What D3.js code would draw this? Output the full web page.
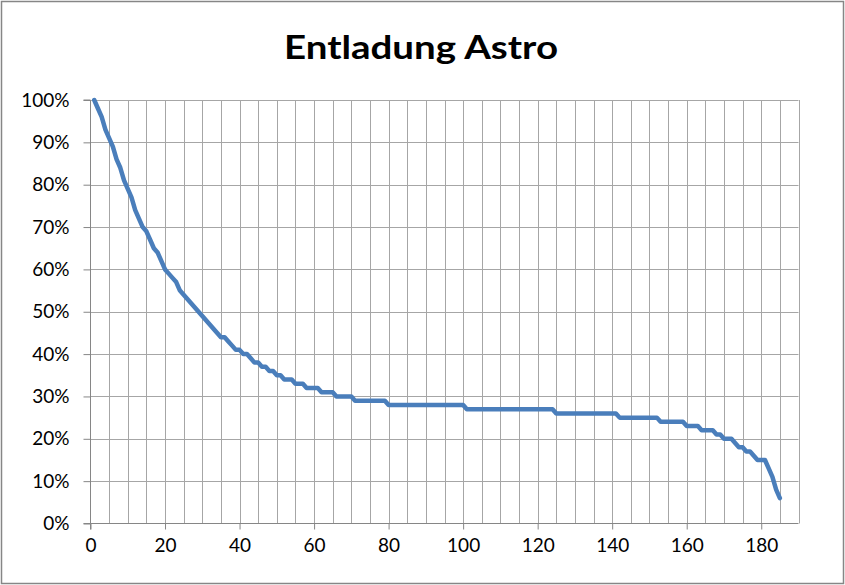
<!DOCTYPE html>
<html>
<head>
<meta charset="utf-8">
<script src="https://cdn.jsdelivr.net/npm/d3@7/dist/d3.min.js"></script>
<style>
  html, body { margin: 0; padding: 0; background: #ffffff; }
  svg { display: block; }
</style>
</head>
<body>
<svg id="chart" width="845" height="585"></svg>
<script>
// ---- data ----
const title = "Entladung Astro";
// charge level (%) for each step 1..185
const charge = [
  100, 98, 96, 93, 91, 89, 86, 84, 81, 79,
  77, 74, 72, 70, 69, 67, 65, 64, 62, 60,
  59, 58, 57, 55, 54, 53, 52, 51, 50, 49,
  48, 47, 46, 45, 44, 44, 43, 42, 41, 41,
  40, 40, 39, 38, 38, 37, 37, 36, 36, 35,
  35, 34, 34, 34, 33, 33, 33, 32, 32, 32,
  32, 31, 31, 31, 31, 30, 30, 30, 30, 30,
  29, 29, 29, 29, 29, 29, 29, 29, 29, 28,
  28, 28, 28, 28, 28, 28, 28, 28, 28, 28,
  28, 28, 28, 28, 28, 28, 28, 28, 28, 28,
  27, 27, 27, 27, 27, 27, 27, 27, 27, 27,
  27, 27, 27, 27, 27, 27, 27, 27, 27, 27,
  27, 27, 27, 27, 26, 26, 26, 26, 26, 26,
  26, 26, 26, 26, 26, 26, 26, 26, 26, 26,
  26, 25, 25, 25, 25, 25, 25, 25, 25, 25,
  25, 25, 24, 24, 24, 24, 24, 24, 24, 23,
  23, 23, 23, 22, 22, 22, 22, 21, 21, 20,
  20, 20, 19, 18, 18, 17, 17, 16, 15, 15,
  15, 13, 11, 8, 6
];
const xTicks = [0, 20, 40, 60, 80, 100, 120, 140, 160, 180];
const yTicks = [0, 0.1, 0.2, 0.3, 0.4, 0.5, 0.6, 0.7, 0.8, 0.9, 1.0];
const xGrid = [5,10,15,20,25,30,35,40,45,50,55,60,65,70,75,80,85,90,95,100,105,110,115,120,125,130,135,140,145,150,155,160,165,170,175,180,185,190];

// ---- layout ----
const W = 845, H = 585;
const plot = { left: 90.5, right: 798.5, top: 100, bottom: 523.5 };
const svg = d3.select("#chart");

const x = d3.scaleLinear().domain([0, 190]).range([plot.left, plot.right]);
const y = d3.scaleLinear().domain([0, 1]).range([plot.bottom, plot.top]);

// outer border
svg.append("rect")
  .attr("x", 1.5).attr("y", 1.5).attr("width", W - 3).attr("height", H - 3)
  .attr("fill", "#ffffff").attr("stroke", "#868686").attr("stroke-width", 1.5);

// title
svg.append("text")
  .attr("x", 421).attr("y", 59)
  .attr("text-anchor", "middle")
  .attr("font-family", "Lato, 'Open Sans', sans-serif")
  .attr("font-weight", "bold")
  .attr("font-size", 33)
  .attr("textLength", 274)
  .attr("lengthAdjust", "spacingAndGlyphs")
  .attr("fill", "#000")
  .text(title);

// gridlines
const grid = svg.append("g");
grid.selectAll("line.v").data(xGrid).join("line")
  .attr("class", "v")
  .attr("x1", d => Math.round(x(d)) + 0.5).attr("x2", d => Math.round(x(d)) + 0.5)
  .attr("y1", plot.top).attr("y2", plot.bottom)
  .attr("stroke", "#a6a6a6").attr("stroke-width", 1);
grid.selectAll("line.h").data(yTicks.filter(d => d > 0)).join("line")
  .attr("class", "h")
  .attr("x1", plot.left).attr("x2", plot.right)
  .attr("y1", d => Math.round(y(d)) + 0.5).attr("y2", d => Math.round(y(d)) + 0.5)
  .attr("stroke", "#a6a6a6").attr("stroke-width", 1);

// axes
const xAxis = d3.axisBottom(x).tickValues(xTicks).tickSize(6).tickPadding(9)
  .tickFormat(d3.format("d"));
const yAxis = d3.axisLeft(y).tickValues(yTicks).tickSize(7).tickPadding(14)
  .tickFormat(d3.format(".0%"));

const gx = svg.append("g").attr("transform", `translate(0,${plot.bottom})`).call(xAxis);
const gy = svg.append("g").attr("transform", `translate(${plot.left},0)`).call(yAxis);

[gx, gy].forEach(g => {
  g.select(".domain").attr("stroke", "#868686").attr("stroke-width", 1);
  g.selectAll(".tick line").attr("stroke", "#868686").attr("stroke-width", 1);
  g.selectAll(".tick text")
    .attr("fill", "#000")
    .attr("font-family", "Lato, 'Open Sans', sans-serif")
    .attr("font-size", 19);
});
gx.select(".domain").attr("d", `M${plot.left},6V0H${plot.right}`);
gy.select(".domain").attr("d", `M-7,${plot.top}H0V${plot.bottom}H-7`);
gx.selectAll(".tick text").attr("dy", "0.71em");

// line
const line = d3.line()
  .x((d, i) => x(i + 1))
  .y(d => y(d / 100));

svg.append("path")
  .datum(charge)
  .attr("d", line)
  .attr("fill", "none")
  .attr("stroke", "#4a7ebb")
  .attr("stroke-width", 4.5)
  .attr("stroke-linejoin", "round")
  .attr("stroke-linecap", "round");
</script>
</body>
</html>
